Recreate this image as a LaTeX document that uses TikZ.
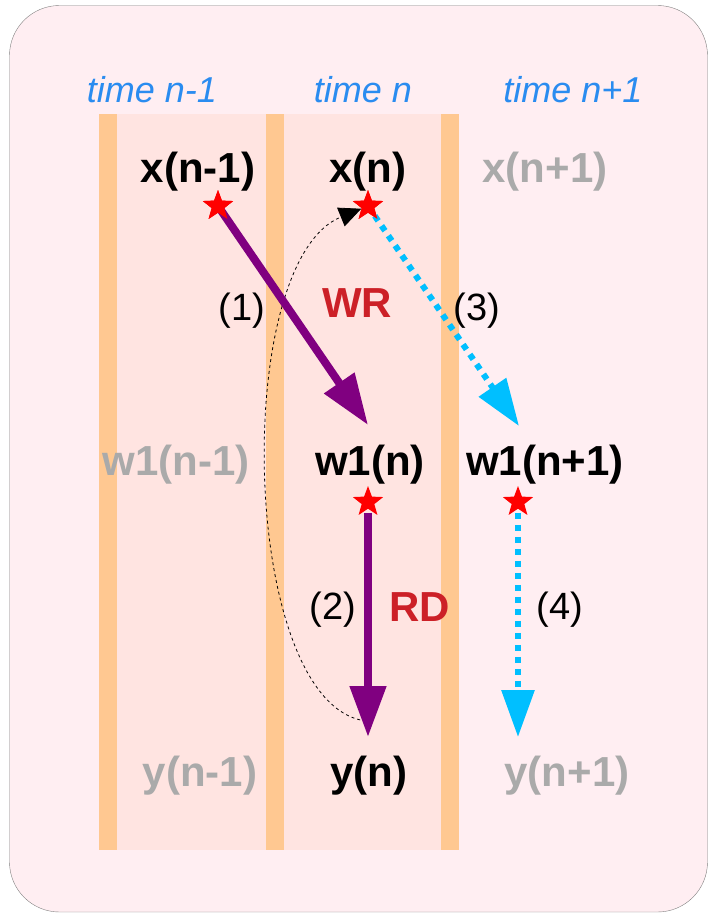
\documentclass[tikz,border=0pt]{standalone}
\usepackage{fontspec}
\setmainfont{Liberation Sans}
\usetikzlibrary{arrows.meta, shapes.geometric}
\definecolor{bgpink}{HTML}{FFEEF2}
\definecolor{colpink}{HTML}{FFE4E1}
\definecolor{stripe}{HTML}{FFC891}
\definecolor{timeblue}{HTML}{2A8CF0}
\definecolor{flowcyan}{HTML}{00BFFF}
\definecolor{flowpurple}{HTML}{800080}
\definecolor{opred}{HTML}{CC2027}
\definecolor{faded}{HTML}{AAAAAA}

\begin{document}
\begin{tikzpicture}[x=1pt, y=-1pt,
  timelbl/.style={font=\fontsize{36}{40}\selectfont\itshape, text=timeblue},
  var/.style={font=\fontsize{42}{46}\selectfont\bfseries},
  ghost/.style={var, text=faded},
  stepnum/.style={font=\fontsize{38}{42}\selectfont},
  oplbl/.style={font=\fontsize{42}{46}\selectfont\bfseries, text=opred},
  sample/.style={star, star points=5, star point ratio=2.4, fill=red,
    inner sep=0pt, minimum size=32pt},
  rwflow/.style={draw=flowpurple, line width=8pt,
    -{Triangle[length=51pt, width=35pt, fill=flowpurple]}},
  fwflow/.style={draw=flowcyan, line width=6pt, dash pattern=on 6pt off 6pt,
    -{Triangle[length=47pt, width=32pt, fill=flowcyan]}},
  backloop/.style={draw=black, line width=0.8pt, dash pattern=on 3pt off 3pt,
    -{Triangle[length=22pt, width=20pt]}},
]
  \useasboundingbox (0,0) rectangle (708,913);
  % frame and time columns
  \draw[gray, fill=bgpink, rounded corners=50pt] (9.5,5.5) rectangle (707.5,912);
  \fill[colpink] (99,114) rectangle (459,850);
  \foreach \xs in {99, 266, 441}
    \fill[stripe] (\xs,114) rectangle ++(18,736);

  % time labels
  \node[timelbl] (tprev) at (152,90) {time n-1};
  \node[timelbl] (tnow)  at (363,90) {time n};
  \node[timelbl] (tnext) at (573,90) {time n+1};

  % variables
  \node[var]   (xprev)  at (198,172) {x(n-1)};
  \node[var]   (xnow)   at (368,172) {x(n)};
  \node[ghost] (xnext)  at (545,172) {x(n+1)};
  \node[ghost] (wprev)  at (176,465) {w1(n-1)};
  \node[var]   (wnow)   at (370,465) {w1(n)};
  \node[var]   (wnext)  at (545,465) {w1(n+1)};
  \node[ghost] (yprev)  at (200,776) {y(n-1)};
  \node[var]   (ynow)   at (369,776) {y(n)};
  \node[ghost] (ynext)  at (567,776) {y(n+1)};

  % samples
  \node[sample] (sxprev) at (218,206) {};
  \node[sample] (sxnow)  at (368,206) {};
  \node[sample] (swnow)  at (368,502) {};
  \node[sample] (swnext) at (518,502) {};

  \coordinate (hitw)  at (368,425);
  \coordinate (hitwn) at (519,426);
  \coordinate (hity)  at (368,737);
  \coordinate (hityn) at (518,737);
  \coordinate (loopfrom) at (366,721);

  % flows
  \draw[backloop] (loopfrom) .. controls (240,705) and (230,262) .. (sxnow);
  \draw[rwflow] (sxprev.center) -- (hitw);
  \draw[rwflow] (swnow.south) ++(0,4) -- (hity);
  \draw[fwflow] (sxnow.center) -- (hitwn);
  \draw[fwflow] (swnext.south) ++(0,4) -- (hityn);
  \node[sample] at (sxprev) {};
  \node[sample] at (sxnow) {};

  % step labels
  \node[stepnum] (n1) at (242,311) {(1)};
  \node[oplbl]   (wr) at (357,303) {WR};
  \node[stepnum] (n3) at (477,311) {(3)};
  \node[stepnum] (n2) at (333,610) {(2)};
  \node[oplbl]   (rd) at (420,607) {RD};
  \node[stepnum] (n4) at (560,610) {(4)};
\end{tikzpicture}
\end{document}
